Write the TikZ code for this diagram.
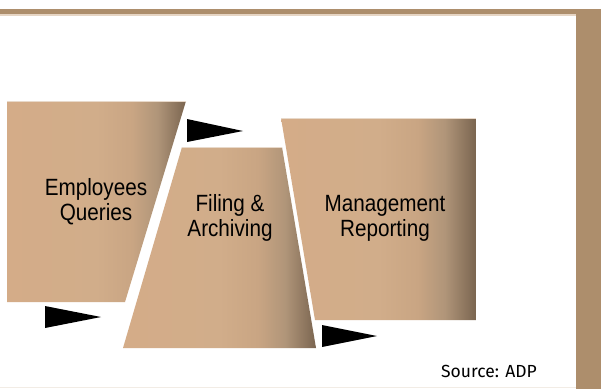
\documentclass[tikz,border=0pt]{standalone}
\usepackage{fontspec}
\setmainfont{Liberation Sans}[FakeStretch=0.88]
\newfontfamily\srcfont{Fira Sans}
\definecolor{barcol}{HTML}{AD8E6C}
\definecolor{barlight}{HTML}{E6D5C4}
\definecolor{faint}{HTML}{F2ECE5}
\definecolor{tanA}{HTML}{D4AC88}
\definecolor{tanB}{HTML}{D1AD8A}
\definecolor{tanC}{HTML}{C9A583}
\definecolor{tanD}{HTML}{B09579}
\definecolor{tanE}{HTML}{7A6550}
\definecolor{edgehl}{HTML}{E8D9CA}
\pgfdeclarehorizontalshading{tanshade}{100bp}{color(0bp)=(tanA); color(25bp)=(tanA); color(50bp)=(tanB); color(60bp)=(tanC); color(67bp)=(tanD); color(75bp)=(tanE); color(100bp)=(tanE)}
\tikzset{
  block/.style={shading=tanshade},
  tophl/.style={draw=edgehl, line width=0.8pt},
  arrowtri/.style={fill=black},
  lbl/.style={font=\fontsize{23.5}{25}\selectfont, align=center, inner sep=0pt, text=black},
  src/.style={font=\srcfont\fontsize{17.5}{20}\selectfont, inner sep=0pt, text=black}
}
\begin{document}
\begin{tikzpicture}[x=1pt,y=-1pt]
\useasboundingbox (0,0) rectangle (601,389);
\fill[white] (0,0) rectangle (601,389);
% frame
\fill[barcol] (0,9) rectangle (601,14.2);
\fill[barlight] (0,14.2) rectangle (576,15.6);
\fill[barcol] (576,9) rectangle (601,389);
\fill[faint] (0,386.8) rectangle (576,388.2);
% shapes
\coordinate (a1) at (7,101); \coordinate (a2) at (186,101);
\coordinate (a3) at (125,302); \coordinate (a4) at (7,302);
\coordinate (b1) at (182,147); \coordinate (b2) at (282,147);
\coordinate (b3) at (316,348); \coordinate (b4) at (123,348);
\coordinate (c1) at (281,118); \coordinate (c2) at (476,118);
\coordinate (c3) at (476,320); \coordinate (c4) at (315,320);
\shade[block] (a1) -- (a2) -- (a3) -- (a4) -- cycle;
\shade[block] (b1) -- (b2) -- (b3) -- (b4) -- cycle;
\shade[block] (c1) -- (c2) -- (c3) -- (c4) -- cycle;
\draw[tophl] (a1) -- (a2);
\draw[tophl] (b1) -- (b2);
\draw[tophl] (c1) -- (c2);
% arrows
\coordinate (t1a) at (45,306); \coordinate (t1b) at (101,317); \coordinate (t1c) at (45,328);
\coordinate (t2a) at (187,119); \coordinate (t2b) at (243,131); \coordinate (t2c) at (187,142);
\coordinate (t3a) at (322,325); \coordinate (t3b) at (377,336); \coordinate (t3c) at (322,347);
\fill[arrowtri] (t1a) -- (t1b) -- (t1c) -- cycle;
\fill[arrowtri] (t2a) -- (t2b) -- (t2c) -- cycle;
\fill[arrowtri] (t3a) -- (t3b) -- (t3c) -- cycle;
% labels (base = baseline of the last line)
\node[lbl, anchor=base] (emp) at (96,220) {Employees\\Queries};
\node[lbl, anchor=base] (fil) at (230,236) {Filing \&\\Archiving};
\node[lbl, anchor=base] (man) at (385,236.5) {Management\\Reporting};
\node[src, anchor=base west] (source) at (441,377.7) {Source: ADP};
\end{tikzpicture}
\end{document}
